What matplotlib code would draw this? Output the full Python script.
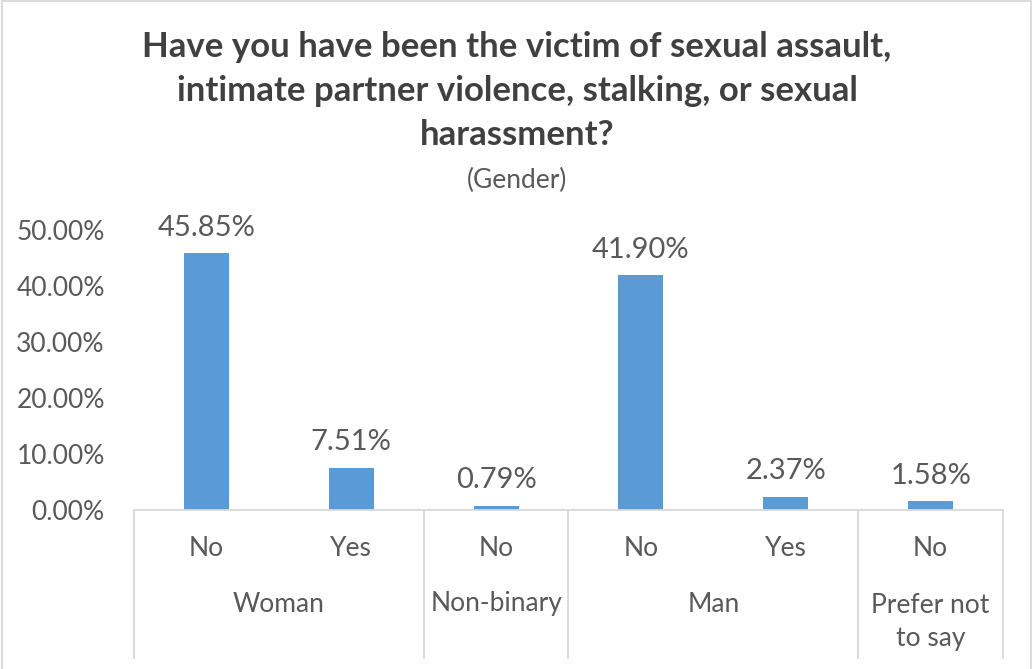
import matplotlib
matplotlib.use("Agg")
import matplotlib.pyplot as plt
from matplotlib.patches import Rectangle
from matplotlib.ticker import FuncFormatter
import matplotlib.transforms as mtransforms

plt.rcParams["font.family"] = ["Lato", "DejaVu Sans"]

# responses (inner level) and gender groups (outer level)
answers = ["No", "Yes", "No", "No", "Yes", "No"]
shares = [0.4585, 0.0751, 0.0079, 0.4190, 0.0237, 0.0158]
groups = ["Woman", "Non-binary", "Man", "Prefer not\nto say"]
group_sizes = [2, 1, 2, 1]

INK = "#595959"
TITLE_INK = "#404040"
LINE = "#d9d9d9"
BAR = "#5b9bd5"
FS = 19

W, H = 1034, 669
fig = plt.figure(figsize=(W / 100, H / 100), dpi=100)
fig.patch.set_facecolor("white")
fig.patches.append(Rectangle((1.5 / W, -0.05), (1031 - 1.5) / W, 1.05 - 1 / H,
                             transform=fig.transFigure, fill=False,
                             edgecolor=LINE, linewidth=1.3))

left, right, bottom, top = 134, 1003, 510, 230
ax = fig.add_axes([left / W, 1 - bottom / H, (right - left) / W, (bottom - top) / H])

x = list(range(len(shares)))
ax.bar(x, shares, width=0.31, color=BAR, zorder=2)
ax.set_xlim(-0.5, len(shares) - 0.5)
ax.set_ylim(0, 0.5)
ax.set_yticks([0, 0.1, 0.2, 0.3, 0.4, 0.5])
ax.yaxis.set_major_formatter(FuncFormatter(lambda v, _: f"{v * 100:.2f}%"))
ax.tick_params(axis="y", length=0, pad=21, labelsize=FS, labelcolor=INK)
ax.set_xticks([])
for s in ("top", "right", "left"):
    ax.spines[s].set_visible(False)
ax.spines["bottom"].set_color(LINE)
ax.spines["bottom"].set_linewidth(1.3)

for xi, v in zip(x, shares):
    ax.annotate(f"{v * 100:.2f}%", (xi, v), xytext=(0, 9), textcoords="offset points",
                ha="center", va="bottom", fontsize=21, color=INK)

# two-level category axis below the plot
trans = mtransforms.blended_transform_factory(ax.transData, fig.transFigure)
for xi, a in zip(x, answers):
    ax.text(xi, 1 - 548 / H, a, transform=trans, ha="center", va="center",
            fontsize=FS, color=INK)

edges = [-0.5]
for n in group_sizes:
    edges.append(edges[-1] + n)
for g, lo, hi in zip(groups, edges[:-1], edges[1:]):
    y = 622 if "\n" in g else 604
    ax.text((lo + hi) / 2, 1 - y / H, g, transform=trans, ha="center",
            va="center", fontsize=FS, color=INK, linespacing=1.42)
for e in edges:
    ax.plot([e, e], [1 - 510 / H, 1 - 658 / H], transform=trans, color=LINE,
            lw=1.3, clip_on=False)

fig.text(517 / W, 1 - 91 / H,
         "Have you have been the victim of sexual assault,\n"
         "intimate partner violence, stalking, or sexual\nharassment?",
         ha="center", va="center", fontsize=25, fontweight="bold",
         color=TITLE_INK, linespacing=1.45)
fig.text(517 / W, 1 - 180 / H, "(Gender)", ha="center", va="center",
         fontsize=FS, color=INK)

fig.savefig("out.png", dpi=100, facecolor="white")
